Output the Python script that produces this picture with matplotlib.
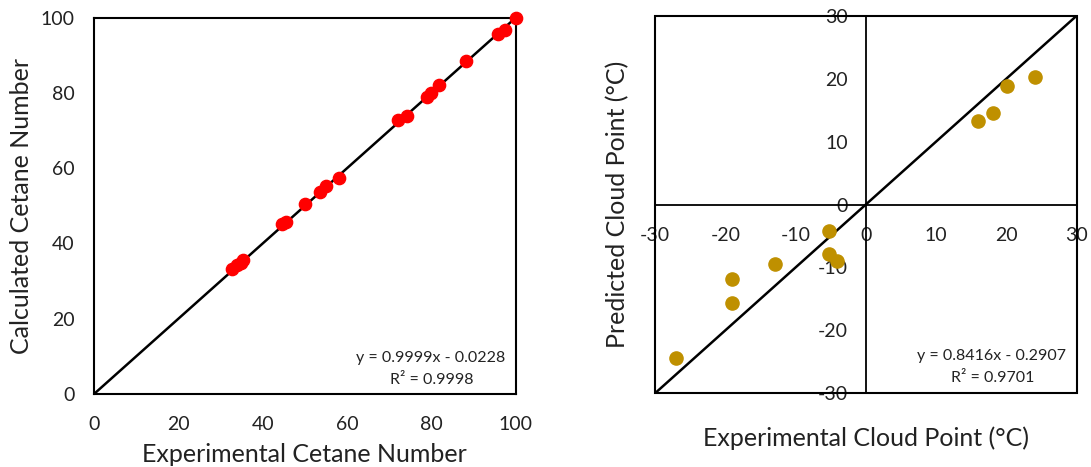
import numpy as np
import matplotlib.pyplot as plt
from matplotlib.patches import Rectangle

plt.rcParams['font.family'] = ['Lato', 'DejaVu Sans']
plt.rcParams['axes.unicode_minus'] = False

# cetane number: experimental vs calculated
cn_exp = [32.8, 34.0, 34.8, 35.4, 44.5, 45.5, 50.0, 53.7, 55.0, 58.2,
          72.2, 74.2, 78.9, 79.9, 81.7, 88.3, 95.9, 97.4, 100.0]
cn_calc = [33.2, 34.2, 34.8, 35.7, 45.1, 45.8, 50.4, 53.7, 55.3, 57.5,
           72.7, 73.9, 78.8, 80.1, 82.1, 88.6, 95.8, 96.8, 100.0]
cn_ticks = [0, 20, 40, 60, 80, 100]

# cloud point: experimental vs predicted
cp_exp = [-27.0, -19.1, -19.1, -12.9, -5.2, -5.2, -4.1, 16.0, 18.1, 20.1, 24.1]
cp_pred = [-24.4, -11.9, -15.6, -9.5, -4.2, -7.9, -8.9, 13.2, 14.5, 18.8, 20.2]
cp_ticks = [-30, -20, -10, 0, 10, 20, 30]

TXT = '#222222'
fig = plt.figure(figsize=(10.91, 4.67), dpi=100)
W, H = 1091, 467

# ---- left panel
ax1 = fig.add_axes([94 / W, 1 - 394 / H, (515.7 - 94) / W, (394 - 17.7) / H])
ax1.plot([0, 100], [0, 100], color='black', lw=1.8, zorder=2)
ax1.scatter(cn_exp, cn_calc, s=78, color='#FF0000', zorder=3, clip_on=False)
ax1.set_xlim(0, 100)
ax1.set_ylim(0, 100)
ax1.set_xticks(cn_ticks)
ax1.set_yticks(cn_ticks)
ax1.tick_params(length=0, labelsize=14, colors=TXT)
ax1.tick_params(axis='x', pad=16)
ax1.tick_params(axis='y', pad=14)
for sp in ax1.spines.values():
    sp.set_linewidth(1.5)
ax1.set_xlabel('Experimental Cetane Number', fontsize=18, color=TXT, va='center')
ax1.set_ylabel('Calculated Cetane Number', fontsize=18, color=TXT, va='center')
ax1.xaxis.set_label_coords(0.5, -0.162)
ax1.yaxis.set_label_coords(-0.171, 0.5)
ax1.text(0.975, 0.096, 'y = 0.9999x - 0.0228', transform=ax1.transAxes,
         ha='right', va='center', fontsize=11.5, color=TXT)
ax1.text(0.80, 0.038, 'R² = 0.9998', transform=ax1.transAxes,
         ha='center', va='center', fontsize=11.5, color=TXT)

# ---- right panel
ax2 = fig.add_axes([655 / W, 1 - 393.3 / H, (1076.7 - 655) / W, (393.3 - 15.7) / H])
ax2.plot([-30, 30], [-30, 30], color='black', lw=1.8, zorder=2)
ax2.scatter(cp_exp, cp_pred, s=90, color='#BF9000', zorder=3)
ax2.set_xlim(-30, 30)
ax2.set_ylim(-30, 30)
ax2.set_xticks(cp_ticks)
ax2.set_yticks(cp_ticks)
ax2.spines['left'].set_position('zero')
ax2.spines['bottom'].set_position('zero')
ax2.spines['right'].set_visible(False)
ax2.spines['top'].set_visible(False)
for sp in ax2.spines.values():
    sp.set_linewidth(1.3)
ax2.add_patch(Rectangle((0, 0), 1, 1, transform=ax2.transAxes, fill=False,
                        lw=1.5, edgecolor='black', clip_on=False, zorder=4))
ax2.tick_params(length=0, labelsize=14, colors=TXT)
ax2.tick_params(axis='x', pad=16)
ax2.tick_params(axis='y', pad=13)
ax2.set_xlabel('Experimental Cloud Point (°C)', fontsize=18, color=TXT, va='center')
ax2.set_ylabel('Predicted Cloud Point (°C)', fontsize=18, color=TXT, va='center')
ax2.xaxis.set_label_coords(0.5, -0.12)
ax2.yaxis.set_label_coords(-0.088, 0.5)
ax2.text(0.975, 0.10, 'y = 0.8416x - 0.2907', transform=ax2.transAxes,
         ha='right', va='center', fontsize=11.5, color=TXT)
ax2.text(0.80, 0.04, 'R² = 0.9701', transform=ax2.transAxes,
         ha='center', va='center', fontsize=11.5, color=TXT)

fig.savefig('out.png', dpi=100)
